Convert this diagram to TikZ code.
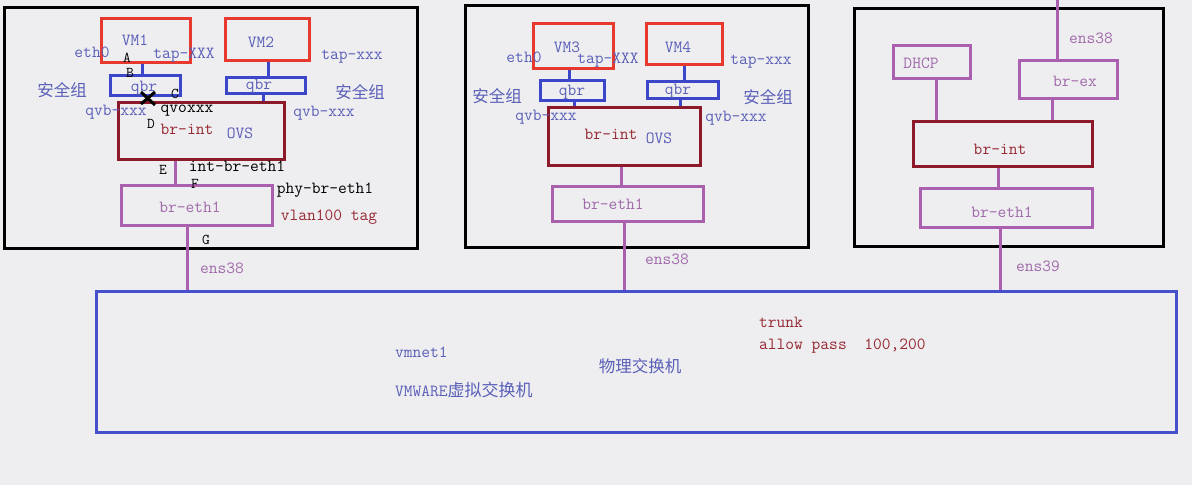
\documentclass[tikz,border=0pt]{standalone}
\usepackage{fontspec}
\usepackage{tikz}
\usetikzlibrary{calc}
\newfontfamily\cjk{Noto Sans CJK SC}
\definecolor{bgcol}{RGB}{238,238,240}
\definecolor{vmred}{RGB}{232,57,46}
\definecolor{qbrblue}{RGB}{60,70,200}
\definecolor{intred}{RGB}{140,26,42}
\definecolor{ethpurple}{RGB}{170,95,175}
\definecolor{swblue}{RGB}{70,80,205}
\definecolor{txtblue}{RGB}{90,95,184}
\definecolor{txtpurple}{RGB}{160,105,170}
\definecolor{txtred}{RGB}{150,40,50}
\tikzstyle{hostbox}=[draw=black,line width=3pt]
\tikzstyle{vmbox}=[draw=vmred,line width=3pt,inner sep=0]
\tikzstyle{qbrbox}=[draw=qbrblue,line width=3pt,inner sep=0]
\tikzstyle{intbox}=[draw=intred,line width=3pt,inner sep=0]
\tikzstyle{ethbox}=[draw=ethpurple,line width=3pt,inner sep=0]
\tikzstyle{swbox}=[draw=swblue,line width=3pt,inner sep=0]
\tikzstyle{taplink}=[color=qbrblue,line width=3pt]
\tikzstyle{ovslink}=[color=ethpurple,line width=3pt]
\tikzstyle{txt}=[font=\ttfamily\fontsize{17}{17}\selectfont,inner sep=0]
\tikzstyle{cntxt}=[font=\cjk\fontsize{16.5}{16.5}\selectfont,inner sep=0]
\tikzstyle{bluetxt}=[txt,color=txtblue]
\tikzstyle{purtxt}=[txt,color=txtpurple]
\tikzstyle{redtxt}=[txt,color=txtred]
\tikzstyle{blktxt}=[txt,color=black]
\tikzstyle{pointtxt}=[font=\ttfamily\fontsize{15}{15}\selectfont,inner sep=0,color=black]

\begin{document}
\begin{tikzpicture}[x=1pt,y=-1pt]

  % CANVAS
  \fill[bgcol] (0,0) rectangle (1192,485);
  \useasboundingbox (0,0) rectangle (1192,485);

  % HOSTS
  \draw[hostbox] (4,7) rectangle (417,248);
  \draw[hostbox] (465,5) rectangle (808,247);
  \draw[hostbox] (854,8) rectangle (1163,246);

  % COMPUTE NODE 1
  \node[vmbox,minimum width=89,minimum height=44] (vm1) at (145.5,40) {};
  \node[vmbox,minimum width=84,minimum height=42] (vm2) at (267,39) {};
  \node[qbrbox,minimum width=70,minimum height=20] (qbr1) at (145,85) {};
  \node[qbrbox,minimum width=79,minimum height=16] (qbr2) at (265.5,85) {};
  \node[intbox,minimum width=166,minimum height=57] (int1) at (201,130.5) {};
  \node[ethbox,minimum width=151,minimum height=40] (etha) at (196.5,205) {};

  % COMPUTE NODE 2
  \node[vmbox,minimum width=80,minimum height=45] (vm3) at (573,45.5) {};
  \node[vmbox,minimum width=76,minimum height=41] (vm4) at (684,43.5) {};
  \node[qbrbox,minimum width=64,minimum height=20] (qbr3) at (572,90) {};
  \node[qbrbox,minimum width=71,minimum height=17] (qbr4) at (682.5,89.5) {};
  \node[intbox,minimum width=152,minimum height=58] (int2) at (624,136) {};
  \node[ethbox,minimum width=151,minimum height=35] (ethb) at (627.5,203.5) {};

  % NETWORK NODE
  \node[ethbox,minimum width=77,minimum height=33] (dhcp) at (931.5,61.5) {};
  \node[ethbox,minimum width=98,minimum height=38] (brex) at (1068,79) {};
  \node[intbox,minimum width=179,minimum height=45] (int3) at (1002.5,143.5) {};
  \node[ethbox,minimum width=172,minimum height=39] (ethc) at (1006,207.5) {};
  \coordinate (uplink) at (1057,0);

  % PHYSICAL SWITCH
  \node[swbox,minimum width=1080,minimum height=141] (sw) at (636,361.5) {};

  % LINKS
  \draw[taplink] (vm1.south -| 142,0) -- (qbr1.north -| 142,0);
  \draw[taplink] (qbr1.south -| 147,0) -- (int1.north -| 147,0);
  \draw[taplink] (vm2.south -| 268,0) -- (qbr2.north -| 268,0);
  \draw[taplink] (qbr2.south -| 263,0) -- (int1.north -| 263,0);
  \draw[ovslink] (int1.south -| 175,0) -- (etha.north -| 175,0);
  \draw[ovslink] (etha.south -| 187,0) -- (sw.north -| 187,0);
  \draw[taplink] (vm3.south -| 569,0) -- (qbr3.north -| 569,0);
  \draw[taplink] (qbr3.south -| 574,0) -- (int2.north -| 574,0);
  \draw[taplink] (vm4.south -| 684,0) -- (qbr4.north -| 684,0);
  \draw[taplink] (qbr4.south -| 680,0) -- (int2.north -| 680,0);
  \draw[ovslink] (int2.south -| 621,0) -- (ethb.north -| 621,0);
  \draw[ovslink] (ethb.south -| 624,0) -- (sw.north -| 624,0);
  \draw[ovslink] (dhcp.south -| 936,0) -- (int3.north -| 936,0);
  \draw[ovslink] (brex.south -| 1052,0) -- (int3.north -| 1052,0);
  \draw[ovslink] (uplink) -- (brex.north -| uplink);
  \draw[ovslink] (int3.south -| 998,0) -- (ethc.north -| 998,0);
  \draw[ovslink] (ethc.south -| 1000,0) -- (sw.north -| 1000,0);

  % BROKEN LINK MARK
  \draw[black,line width=3pt] (141,92) -- (155,105);
  \draw[black,line width=3pt] (141,104) -- (155,92);

  % LABELS NODE 1
  \node[bluetxt] (lvm1) at (135,40) {VM1};
  \node[bluetxt] (leth1) at (92,52) {eth0};
  \node[pointtxt] (la) at (127,58) {A};
  \node[bluetxt] (ltap1) at (184,55) {tap-XXX};
  \node[pointtxt] (lb) at (130,73) {B};
  \node[bluetxt] (lqbr1) at (144,88) {qbr};
  \node[pointtxt] (lc) at (175,94) {C};
  \node[cntxt,color=txtblue] (lsg1) at (62,90) {安全组};
  \node[bluetxt] (lqvb1) at (116,112) {qvb-xxx};
  \node[blktxt] (lqvo) at (187,111) {qvoxxx};
  \node[pointtxt] (ld) at (151,124) {D};
  \node[redtxt] (lint1) at (187,129) {br-int};
  \node[bluetxt] (lovs1) at (240,133) {OVS};
  \node[pointtxt] (le) at (163,170) {E};
  \node[blktxt] (lintbr) at (237,166) {int-br-eth1};
  \node[pointtxt] (lf) at (195,184) {F};
  \node[blktxt] (lphybr) at (325,190) {phy-br-eth1};
  \node[purtxt] (letha) at (190,207) {br-eth1};
  \node[redtxt] (lvlan) at (329,217) {vlan100 tag};
  \node[pointtxt] (lg) at (206,240) {G};
  \node[bluetxt] (lvm2) at (261,42) {VM2};
  \node[bluetxt] (ltap2) at (352,57) {tap-xxx};
  \node[bluetxt] (lqbr2) at (259,86) {qbr};
  \node[cntxt,color=txtblue] (lsg2) at (360,92) {安全组};
  \node[bluetxt] (lqvb2) at (324,113) {qvb-xxx};
  \node[purtxt] (lens1) at (222,268) {ens38};

  % LABELS NODE 2
  \node[bluetxt] (lvm3) at (567,47) {VM3};
  \node[bluetxt] (leth2) at (524,57) {eth0};
  \node[bluetxt] (ltap3) at (608,60) {tap-XXX};
  \node[bluetxt] (lvm4) at (678,47) {VM4};
  \node[bluetxt] (ltap4) at (761,62) {tap-xxx};
  \node[cntxt,color=txtblue] (lsg3) at (497,96) {安全组};
  \node[bluetxt] (lqbr3) at (572,92) {qbr};
  \node[bluetxt] (lqbr4) at (678,91) {qbr};
  \node[cntxt,color=txtblue] (lsg4) at (768,97) {安全组};
  \node[bluetxt] (lqvb3) at (546,117) {qvb-xxx};
  \node[bluetxt] (lqvb4) at (736,118) {qvb-xxx};
  \node[redtxt] (lint2) at (611,134) {br-int};
  \node[bluetxt] (lovs2) at (659,138) {OVS};
  \node[purtxt] (lethb) at (613,204) {br-eth1};
  \node[purtxt] (lens2) at (667,259) {ens38};

  % LABELS NETWORK NODE
  \node[purtxt] (lens3) at (1091,38) {ens38};
  \node[purtxt] (ldhcp) at (921,63) {DHCP};
  \node[purtxt] (lbrex) at (1075,81) {br-ex};
  \node[redtxt] (lint3) at (1000,149) {br-int};
  \node[purtxt] (lethc) at (1002,212) {br-eth1};
  \node[purtxt] (lens4) at (1038,266) {ens39};

  % LABELS SWITCH
  \node[redtxt,anchor=west] (ltrunk) at (759,322) {trunk};
  \node[redtxt,anchor=west] (lallow) at (759,346) {allow pass\ \ 100,200};
  \node[bluetxt,anchor=west] (lvmnet) at (395,352) {vmnet1};
  \node[cntxt,color=txtblue] (lphys) at (640,366) {物理交换机};
  \node[bluetxt,anchor=west] (lvmware) at (395,390) {VMWARE{\cjk 虚拟交换机}};

\end{tikzpicture}
\end{document}
